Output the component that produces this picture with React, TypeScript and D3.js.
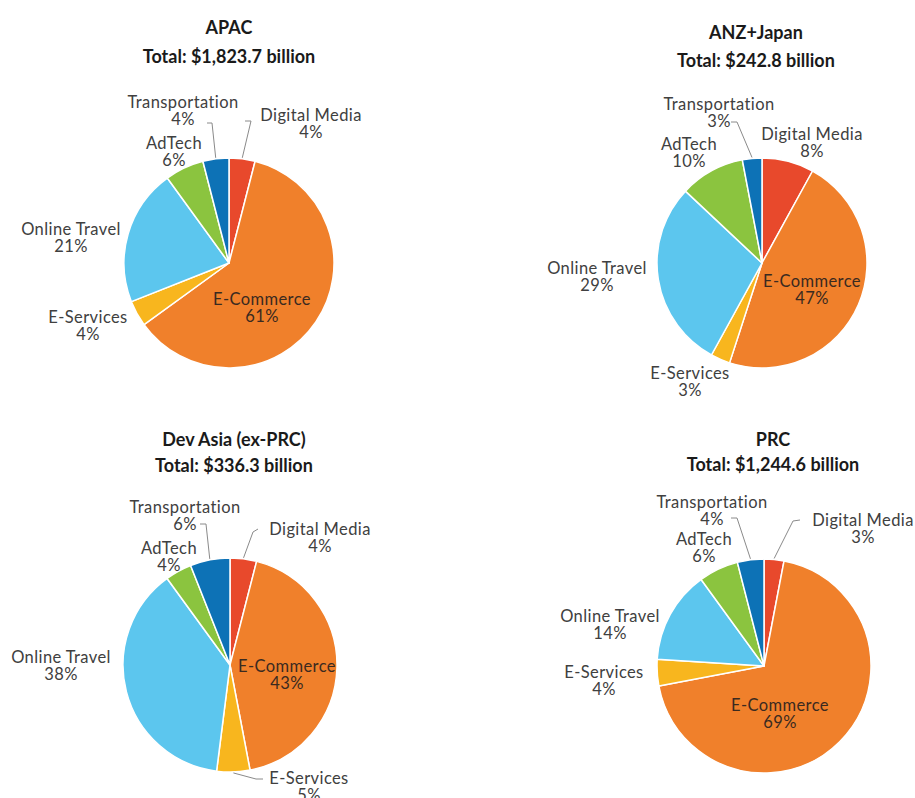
import React from "react";
import * as d3 from "d3";

// ---- Data ----
const categories = ["Digital Media", "E-Commerce", "E-Services", "Online Travel", "AdTech", "Transportation"];
const regions = ["APAC", "ANZ+Japan", "Dev Asia (ex-PRC)", "PRC"];
const totals = ["Total: $1,823.7 billion", "Total: $242.8 billion", "Total: $336.3 billion", "Total: $1,244.6 billion"];
const apacShares = [4, 61, 4, 21, 6, 4];
const anzShares = [8, 47, 3, 29, 10, 3];
const devAsiaShares = [4, 43, 5, 38, 4, 6];
const prcShares = [3, 69, 4, 14, 6, 4];
const seriesValues = [apacShares, anzShares, devAsiaShares, prcShares];

// ---- Styles / layout ----
const colors = ["#E8492C", "#F0802B", "#F8B61E", "#5CC6EE", "#8BC43F", "#0D72B6"];
const W = 915;
const H = 798;

// pie centres & radius
const pieLayout = [
  { cx: 229, cy: 263, r: 105, tx: 229, ty1: 27, ty2: 56 },
  { cx: 762, cy: 263, r: 105, tx: 756, ty1: 32, ty2: 60 },
  { cx: 230, cy: 665, r: 107, tx: 234, ty1: 439, ty2: 465 },
  { cx: 764, cy: 666, r: 107, tx: 773, ty1: 439, ty2: 464 },
];

// label offsets (relative to pie centre), per category; leader: [startX, startY, elbowX, elbowY] or null
type Lbl = { dx: number; dy: number; leader?: number[] | null; inside?: boolean };
const labelLayout: Lbl[][] = [
  [
    { dx: 82, dy: -148, leader: [16, -142, 22, -142] },
    { dx: 33, dy: 36, inside: true },
    { dx: -141, dy: 54 },
    { dx: -158, dy: -34 },
    { dx: -55, dy: -120 },
    { dx: -46, dy: -161, leader: [-22, -140, -17, -140] },
  ],
  [
    { dx: 50, dy: -129 },
    { dx: 50, dy: 18, inside: true },
    { dx: -72, dy: 110 },
    { dx: -165, dy: 5 },
    { dx: -73, dy: -119 },
    { dx: -43, dy: -159, leader: [-31, -141, -25, -141] },
  ],
  [
    { dx: 90, dy: -136, leader: [28, -136, 23, -133] },
    { dx: 57, dy: 1, inside: true },
    { dx: 79, dy: 113, leader: [33, 114, 26, 114] },
    { dx: -169, dy: -8 },
    { dx: -61, dy: -117 },
    { dx: -45, dy: -158, leader: [-30, -141, -24, -141] },
  ],
  [
    { dx: 99, dy: -146, leader: [36, -146, 29, -145] },
    { dx: 16, dy: 39, inside: true },
    { dx: -160, dy: 6 },
    { dx: -154, dy: -50 },
    { dx: -60, dy: -127 },
    { dx: -52, dy: -164, leader: [-33, -148, -27, -148] },
  ],
];

const labelFont = "Lato, 'Open Sans', sans-serif";
const titleFont = "Lato, 'Open Sans', sans-serif";
const lineGap = 17;

function PieBlock({ idx }: { idx: number }) {
  const values = seriesValues[idx];
  const L = pieLayout[idx];
  const pie = d3
    .pie<number>()
    .sort(null)
    .value((d) => d);
  const arcs = pie(values);
  const arcGen = d3.arc<d3.PieArcDatum<number>>().innerRadius(0).outerRadius(L.r);

  return (
    <g>
      <text x={L.tx} y={L.ty1} textAnchor="middle" dominantBaseline="central" fontFamily={titleFont} fontWeight={700} fontSize={18} fill="#1a1a1a">
        {regions[idx]}
      </text>
      <text x={L.tx} y={L.ty2} textAnchor="middle" dominantBaseline="central" fontFamily={titleFont} fontWeight={700} fontSize={18} fill="#1a1a1a">
        {totals[idx]}
      </text>
      <g transform={`translate(${L.cx},${L.cy})`}>
        {arcs.map((a, i) => (
          <path key={i} d={arcGen(a) || ""} fill={colors[i]} stroke="#ffffff" strokeWidth={1.5} strokeLinejoin="round" />
        ))}
        {arcs.map((a, i) => {
          const lb = labelLayout[idx][i];
          if (!lb.leader) return null;
          const mid = (a.startAngle + a.endAngle) / 2;
          const ex = Math.sin(mid) * (L.r + 1);
          const ey = -Math.cos(mid) * (L.r + 1);
          const [sx, sy, bx, by] = lb.leader;
          const path = d3.path();
          path.moveTo(sx, sy);
          path.lineTo(bx, by);
          path.lineTo(ex, ey);
          return <path key={"l" + i} d={path.toString()} fill="none" stroke="#8a8a8a" strokeWidth={1} />;
        })}
        {arcs.map((a, i) => {
          const lb = labelLayout[idx][i];
          return (
            <text key={"t" + i} textAnchor="middle" fontFamily={labelFont} fontSize={16.5} letterSpacing={0.4} fill={lb.inside ? "#3a2a20" : "#404040"} dominantBaseline="central">
              <tspan x={lb.dx} y={lb.dy}>{categories[i]}</tspan>
              <tspan x={lb.dx} y={lb.dy + lineGap}>{`${a.data}%`}</tspan>
            </text>
          );
        })}
      </g>
    </g>
  );
}

export default function App() {
  return (
    <svg width={W} height={H} style={{ position: "absolute", left: 0, top: 0, background: "#ffffff" }}>
      <rect x={0} y={0} width={W} height={H} fill="#ffffff" />
      {regions.map((_, i) => (
        <PieBlock key={i} idx={i} />
      ))}
    </svg>
  );
}
